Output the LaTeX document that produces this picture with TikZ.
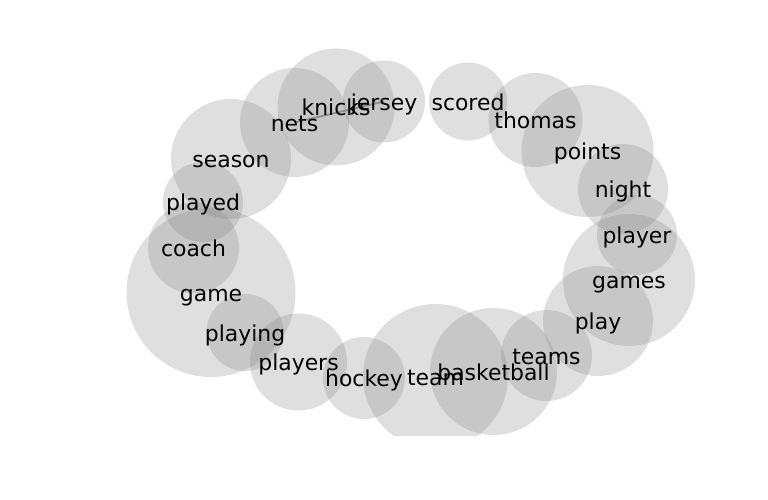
\documentclass[tikz,border=0pt]{standalone}
\usepackage{fontspec}
\usepackage{tikz}
\newfontfamily\wordfont{DejaVu Sans}
\definecolor{burbuja}{RGB}{128,128,128}
\definecolor{enlace}{RGB}{150,150,150}

\begin{document}
\begin{tikzpicture}[x=1bp, y=-1bp,
    bubble/.style={fill=burbuja, fill opacity=0.25},
    word/.style={font=\wordfont\fontsize{22}{26}\selectfont, inner sep=0pt, text=black,
      text height=16.7pt, text depth=5.2pt, yshift=-3bp}]
  \useasboundingbox (0,0) rectangle (768,500);
  % word / x / y / radius
  \def\bubbles{knicks/336/107/58.5, jersey/384/101.5/41, nets/294.5/122.5/54.5,
    scored/468/101.5/39, thomas/535.5/120/47, points/587.5/151/66,
    night/623/189/45, player/637/235/40, games/629/280/66, play/598/321/55,
    teams/546.5/355.5/45.5, basketball/493.5/371.5/63.5, team/435.5/376.5/72.5,
    hockey/364/378/41, players/298.5/362/48.5, playing/245/332.5/38.5,
    game/211/292.5/84.5, coach/193.5/248/45.5, played/203/202/40,
    season/231/159/60}
  \foreach \w/\x/\y/\r in \bubbles
    \coordinate (\w) at (\x,\y);
  \draw[enlace, line width=1.8bp] (nets) -- (jersey);
  \begin{scope}
    \clip (0,0) rectangle (768,435.5);
    \foreach \w/\x/\y/\r in \bubbles
      \fill[bubble] (\w) circle[radius=\r];
  \end{scope}
  \foreach \w/\x/\y/\r in \bubbles
    \node[word] (t-\w) at (\w) {\w};
\end{tikzpicture}
\end{document}
